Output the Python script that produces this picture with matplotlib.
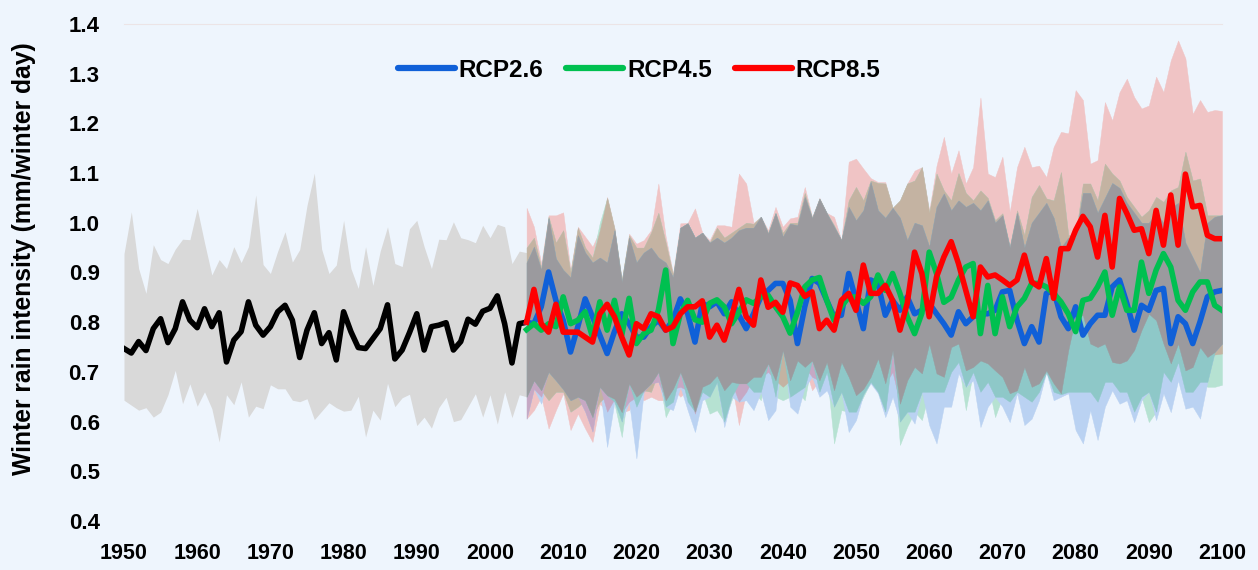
import numpy as np
import matplotlib
matplotlib.use('Agg')
import matplotlib.pyplot as plt
from matplotlib.lines import Line2D
from matplotlib.ticker import FormatStrFormatter

# ---------------- data ----------------
hist_years = list(range(1950, 2006))
hist_mean = [0.747, 0.738, 0.761, 0.743, 0.787, 0.807, 0.759, 0.787, 0.841, 0.804,
             0.789, 0.827, 0.791, 0.819, 0.720, 0.764, 0.781, 0.841, 0.794, 0.774,
             0.791, 0.821, 0.834, 0.804, 0.729, 0.784, 0.819, 0.757, 0.779, 0.724,
             0.821, 0.781, 0.749, 0.747, 0.767, 0.787, 0.835, 0.726, 0.744, 0.779,
             0.817, 0.744, 0.791, 0.794, 0.799, 0.744, 0.761, 0.806, 0.796, 0.822,
             0.828, 0.853, 0.797, 0.718, 0.797, 0.800]
hist_upper = [0.938, 1.022, 0.908, 0.858, 0.956, 0.926, 0.918, 0.947, 0.967, 0.966,
              1.029, 0.960, 0.895, 0.926, 0.908, 0.952, 0.920, 0.952, 1.056, 0.916,
              0.898, 0.943, 0.982, 0.921, 0.946, 1.035, 1.100, 0.947, 0.898, 0.915,
              1.005, 0.908, 0.868, 0.952, 0.874, 0.943, 0.992, 0.918, 0.912, 0.988,
              1.005, 0.952, 0.908, 0.967, 0.966, 1.002, 0.970, 0.966, 0.960, 0.995,
              0.970, 0.997, 0.992, 0.918, 0.943, 0.940]
hist_lower = [0.643, 0.633, 0.623, 0.628, 0.609, 0.619, 0.654, 0.703, 0.636, 0.676,
              0.631, 0.660, 0.626, 0.559, 0.654, 0.634, 0.680, 0.609, 0.631, 0.626,
              0.674, 0.666, 0.666, 0.643, 0.640, 0.646, 0.604, 0.621, 0.638, 0.628,
              0.621, 0.623, 0.651, 0.569, 0.623, 0.603, 0.677, 0.630, 0.648, 0.655,
              0.592, 0.609, 0.587, 0.628, 0.649, 0.600, 0.604, 0.630, 0.656, 0.609,
              0.654, 0.595, 0.660, 0.608, 0.654, 0.650]

fut_years = list(range(2005, 2101))
rcp26 = [0.800, 0.797, 0.831, 0.901, 0.844, 0.804, 0.740, 0.791, 0.847, 0.811,
         0.774, 0.737, 0.781, 0.817, 0.797, 0.770, 0.770, 0.791, 0.804, 0.784,
         0.804, 0.847, 0.817, 0.760, 0.838, 0.831, 0.841, 0.817, 0.841, 0.814,
         0.787, 0.817, 0.851, 0.864, 0.878, 0.878, 0.844, 0.757, 0.831, 0.888,
         0.878, 0.844, 0.811, 0.814, 0.898, 0.844, 0.787, 0.885, 0.878, 0.814,
         0.844, 0.824, 0.851, 0.817, 0.824, 0.838, 0.817, 0.797, 0.774, 0.821,
         0.797, 0.811, 0.817, 0.817, 0.824, 0.861, 0.864, 0.804, 0.757, 0.791,
         0.760, 0.858, 0.864, 0.811, 0.787, 0.831, 0.774, 0.797, 0.814, 0.814,
         0.871, 0.885, 0.838, 0.784, 0.834, 0.824, 0.864, 0.868, 0.757, 0.811,
         0.797, 0.757, 0.801, 0.851, 0.861, 0.864]
rcp45 = [0.785, 0.797, 0.784, 0.797, 0.791, 0.851, 0.797, 0.804, 0.821, 0.770,
         0.841, 0.784, 0.844, 0.774, 0.848, 0.757, 0.777, 0.784, 0.824, 0.905,
         0.757, 0.817, 0.844, 0.805, 0.800, 0.838, 0.845, 0.831, 0.797, 0.820,
         0.845, 0.838, 0.851, 0.854, 0.831, 0.811, 0.778, 0.820, 0.871, 0.885,
         0.890, 0.844, 0.804, 0.831, 0.851, 0.851, 0.838, 0.851, 0.895, 0.864,
         0.898, 0.858, 0.811, 0.777, 0.818, 0.941, 0.898, 0.840, 0.850, 0.885,
         0.911, 0.918, 0.777, 0.874, 0.777, 0.851, 0.791, 0.831, 0.848, 0.878,
         0.878, 0.871, 0.858, 0.841, 0.817, 0.781, 0.844, 0.848, 0.871, 0.901,
         0.814, 0.871, 0.824, 0.824, 0.921, 0.858, 0.905, 0.938, 0.911, 0.844,
         0.824, 0.861, 0.881, 0.881, 0.834, 0.824]
rcp85 = [0.800, 0.866, 0.797, 0.780, 0.836, 0.780, 0.780, 0.780, 0.770, 0.760,
         0.817, 0.836, 0.811, 0.770, 0.734, 0.797, 0.787, 0.817, 0.811, 0.784,
         0.791, 0.817, 0.831, 0.831, 0.843, 0.770, 0.794, 0.764, 0.811, 0.866,
         0.811, 0.794, 0.885, 0.830, 0.840, 0.820, 0.879, 0.874, 0.852, 0.861,
         0.787, 0.804, 0.784, 0.844, 0.858, 0.824, 0.915, 0.858, 0.858, 0.874,
         0.844, 0.784, 0.838, 0.941, 0.898, 0.811, 0.891, 0.931, 0.962, 0.918,
         0.864, 0.811, 0.911, 0.891, 0.895, 0.885, 0.874, 0.885, 0.935, 0.881,
         0.871, 0.928, 0.848, 0.948, 0.948, 0.985, 1.013, 0.992, 0.931, 1.015,
         0.911, 1.049, 1.019, 0.985, 0.988, 0.938, 1.025, 0.955, 1.056, 0.955,
         1.098, 1.032, 1.035, 0.975, 0.968, 0.968]

rcp85_upper = [1.030, 0.992, 0.918, 1.015, 1.015, 1.021, 0.905, 0.992, 0.972, 0.952,
               0.985, 1.052, 0.990, 0.885, 0.978, 0.958, 0.965, 0.985, 1.079, 0.972,
               0.898, 0.999, 1.000, 1.029, 0.980, 0.965, 0.995, 0.995, 0.992, 1.099,
               1.079, 1.000, 1.012, 0.985, 1.032, 0.992, 1.009, 1.012, 1.072, 1.012,
               1.050, 1.020, 1.012, 0.965, 1.123, 1.129, 1.109, 1.090, 1.082, 1.082,
               1.030, 1.045, 1.079, 1.105, 1.112, 1.025, 1.115, 1.173, 1.099, 1.146,
               1.079, 1.112, 1.252, 1.099, 1.092, 1.133, 1.022, 1.112, 1.153, 1.112,
               1.115, 1.092, 1.153, 1.183, 1.180, 1.267, 1.247, 1.119, 1.126, 1.243,
               1.206, 1.263, 1.290, 1.253, 1.230, 1.236, 1.294, 1.263, 1.327, 1.367,
               1.331, 1.219, 1.247, 1.223, 1.227, 1.225]
rcp45_upper = [0.950, 0.970, 0.910, 1.012, 0.960, 0.985, 0.900, 0.990, 0.950, 0.930,
               1.000, 1.050, 0.988, 0.885, 0.975, 0.950, 0.950, 0.980, 1.020, 0.960,
               0.895, 0.990, 0.999, 0.970, 0.980, 0.960, 0.990, 0.970, 0.980, 0.990,
               1.000, 0.998, 1.012, 0.980, 1.020, 0.980, 1.000, 1.000, 1.060, 1.010,
               1.049, 1.020, 0.995, 0.965, 1.045, 1.072, 1.045, 1.085, 1.080, 1.079,
               1.030, 1.045, 1.079, 1.085, 1.112, 1.020, 1.099, 1.065, 1.045, 1.100,
               1.060, 1.045, 1.065, 1.050, 1.005, 1.019, 0.952, 1.025, 0.975, 1.052,
               1.076, 1.049, 1.045, 1.102, 0.975, 0.975, 1.079, 1.079, 1.045, 1.119,
               1.099, 1.085, 1.052, 1.032, 1.012, 1.025, 1.052, 1.042, 1.065, 1.072,
               1.143, 1.085, 1.089, 1.015, 1.015, 1.015]
rcp26_upper = [0.920, 0.952, 0.905, 1.009, 0.928, 0.905, 0.890, 0.975, 0.940, 0.920,
               0.930, 0.920, 0.985, 0.880, 0.970, 0.920, 0.940, 0.950, 0.930, 0.920,
               0.890, 0.990, 0.999, 0.970, 0.980, 0.960, 0.970, 0.960, 0.970, 0.985,
               0.990, 0.990, 1.012, 0.978, 1.019, 0.972, 0.998, 0.995, 1.052, 1.009,
               1.048, 1.019, 0.992, 0.965, 1.032, 1.005, 1.025, 1.082, 1.025, 1.010,
               1.030, 1.010, 0.965, 1.000, 0.995, 0.952, 1.032, 1.059, 1.025, 1.045,
               1.032, 1.040, 1.025, 1.045, 1.000, 1.015, 0.950, 1.020, 0.950, 1.000,
               1.020, 1.040, 1.010, 0.950, 0.970, 0.970, 1.060, 1.060, 1.020, 1.050,
               1.080, 1.070, 1.040, 1.020, 1.000, 1.000, 1.020, 1.000, 1.030, 1.040,
               0.960, 0.930, 0.900, 1.000, 1.012, 1.015]

rcp85_lower = [0.606, 0.623, 0.650, 0.586, 0.623, 0.657, 0.583, 0.616, 0.586, 0.559,
               0.636, 0.620, 0.646, 0.619, 0.623, 0.650, 0.643, 0.650, 0.643, 0.643,
               0.666, 0.650, 0.663, 0.616, 0.670, 0.677, 0.693, 0.663, 0.680, 0.593,
               0.660, 0.690, 0.690, 0.700, 0.683, 0.670, 0.683, 0.723, 0.710, 0.663,
               0.683, 0.720, 0.663, 0.720, 0.690, 0.653, 0.666, 0.690, 0.727, 0.677,
               0.700, 0.636, 0.683, 0.710, 0.697, 0.757, 0.697, 0.690, 0.750, 0.757,
               0.703, 0.710, 0.723, 0.717, 0.703, 0.690, 0.657, 0.663, 0.710, 0.670,
               0.677, 0.703, 0.677, 0.657, 0.744, 0.811, 0.814, 0.757, 0.750, 0.757,
               0.720, 0.717, 0.723, 0.744, 0.784, 0.817, 0.804, 0.757, 0.717, 0.757,
               0.703, 0.710, 0.750, 0.730, 0.735, 0.737]
rcp45_lower = [0.650, 0.683, 0.663, 0.643, 0.660, 0.660, 0.620, 0.630, 0.643, 0.609,
               0.640, 0.653, 0.636, 0.569, 0.677, 0.630, 0.663, 0.660, 0.700, 0.609,
               0.640, 0.700, 0.640, 0.620, 0.660, 0.616, 0.623, 0.600, 0.643, 0.677,
               0.677, 0.660, 0.643, 0.717, 0.650, 0.643, 0.650, 0.660, 0.643, 0.723,
               0.660, 0.700, 0.556, 0.623, 0.620, 0.620, 0.650, 0.680, 0.660, 0.620,
               0.744, 0.553, 0.590, 0.620, 0.603, 0.660, 0.660, 0.660, 0.700, 0.720,
               0.623, 0.700, 0.660, 0.680, 0.609, 0.650, 0.640, 0.660, 0.650, 0.640,
               0.660, 0.700, 0.660, 0.655, 0.660, 0.660, 0.660, 0.660, 0.640, 0.680,
               0.680, 0.660, 0.660, 0.620, 0.650, 0.599, 0.620, 0.700, 0.680, 0.720,
               0.660, 0.660, 0.680, 0.670, 0.670, 0.674]
rcp26_lower = [0.606, 0.666, 0.636, 0.700, 0.683, 0.665, 0.643, 0.650, 0.620, 0.580,
               0.670, 0.549, 0.640, 0.600, 0.640, 0.526, 0.660, 0.677, 0.680, 0.630,
               0.623, 0.670, 0.623, 0.579, 0.643, 0.650, 0.680, 0.589, 0.650, 0.640,
               0.643, 0.623, 0.660, 0.603, 0.623, 0.744, 0.630, 0.616, 0.670, 0.690,
               0.650, 0.663, 0.630, 0.660, 0.579, 0.603, 0.655, 0.677, 0.657, 0.609,
               0.650, 0.600, 0.620, 0.596, 0.660, 0.593, 0.556, 0.630, 0.630, 0.697,
               0.670, 0.683, 0.589, 0.630, 0.650, 0.630, 0.599, 0.657, 0.593, 0.606,
               0.643, 0.700, 0.643, 0.650, 0.657, 0.583, 0.556, 0.623, 0.563, 0.630,
               0.663, 0.636, 0.643, 0.599, 0.643, 0.660, 0.603, 0.657, 0.619, 0.683,
               0.626, 0.630, 0.606, 0.680, 0.740, 0.757]

series_names = ['RCP2.6', 'RCP4.5', 'RCP8.5']
x_ticks = list(range(1950, 2101, 10))
y_ticks = [0.4, 0.5, 0.6, 0.7, 0.8, 0.9, 1.0, 1.1, 1.2, 1.3, 1.4]
y_label = 'Winter rain intensity (mm/winter day)'

# ---------------- style ----------------
BG = '#eef5fd'
HIST_FILL = '#d9d9d9'
C_BLUE, C_GREEN, C_RED = '#1060d8', '#00c050', '#ff0000'
F_BLUE, F_GREEN, F_RED = '#bad2f2', '#b6e2d2', '#f0c4c5'
F_RG, F_RB, F_GB = '#c4b3a2', '#c6a8c4', '#8ec8c8'
F_ALL = '#9b9a9e'
FONT = ['Liberation Sans', 'DejaVu Sans']

fig = plt.figure(figsize=(12.58, 5.70), dpi=100, facecolor=BG)
ax = fig.add_axes([124 / 1258, 49 / 570, 1098 / 1258, 497 / 570])
ax.set_facecolor(BG)
ax.set_xlim(1950, 2100)
ax.set_ylim(0.4, 1.4)

hx = np.array(hist_years)
fx = np.array(fut_years)

# historical envelope
ax.fill_between(hx, hist_lower, hist_upper, color=HIST_FILL, lw=0, zorder=1)

lows = {'b': np.array(rcp26_lower), 'g': np.array(rcp45_lower), 'r': np.array(rcp85_lower)}
highs = {'b': np.array(rcp26_upper), 'g': np.array(rcp45_upper), 'r': np.array(rcp85_upper)}


def region(keys, color, z):
    lo = np.max([lows[k] for k in keys], axis=0)
    hi = np.min([highs[k] for k in keys], axis=0)
    ax.fill_between(fx, lo, hi, where=hi > lo, interpolate=True,
                    facecolor=color, edgecolor=color, lw=0.3, zorder=z)


region('r', F_RED, 2)
region('g', F_GREEN, 2)
region('b', F_BLUE, 2)
region('rg', F_RG, 3)
region('rb', F_RB, 3)
region('gb', F_GB, 3)
region('rgb', F_ALL, 4)

lw = 4.0
ax.plot(hx, hist_mean, color='black', lw=lw, zorder=6, solid_joinstyle='round')
ax.plot(fx, rcp26, color=C_BLUE, lw=lw, zorder=7, solid_joinstyle='round')
ax.plot(fx, rcp45, color=C_GREEN, lw=lw, zorder=8, solid_joinstyle='round')
ax.plot(fx, rcp85, color=C_RED, lw=lw, zorder=9, solid_joinstyle='round')

# axes cosmetics
for s in ['left', 'right', 'bottom']:
    ax.spines[s].set_visible(False)
ax.spines['top'].set_color('#ece4e6')
ax.spines['top'].set_linewidth(0.8)

ax.set_xticks(x_ticks)
ax.set_yticks(y_ticks)
ax.yaxis.set_major_formatter(FormatStrFormatter('%.1f'))
ax.tick_params(axis='both', length=0)
ax.tick_params(axis='y', pad=17.5)
ax.tick_params(axis='x', pad=15.5)
for t in ax.get_xticklabels():
    t.set_fontfamily(FONT)
    t.set_fontweight('bold')
    t.set_fontsize(15.5)
for t in ax.get_yticklabels():
    t.set_fontfamily(FONT)
    t.set_fontweight('bold')
    t.set_fontsize(16)

ax.set_ylabel(y_label, fontsize=17.8, fontweight='bold', family=FONT)
ax.yaxis.set_label_coords(-0.080, 0.527)

handles = [Line2D([], [], color=c, lw=4.5, solid_capstyle='round')
           for c in (C_BLUE, C_GREEN, C_RED)]
leg = ax.legend(handles, series_names, loc='center', bbox_to_anchor=(0.469, 0.907),
                ncol=3, frameon=False, handlelength=2.35, handletextpad=0.15,
                columnspacing=0.95,
                prop={'family': FONT, 'weight': 'bold', 'size': 17.5})

fig.savefig('out.png', dpi=100, facecolor=BG)
